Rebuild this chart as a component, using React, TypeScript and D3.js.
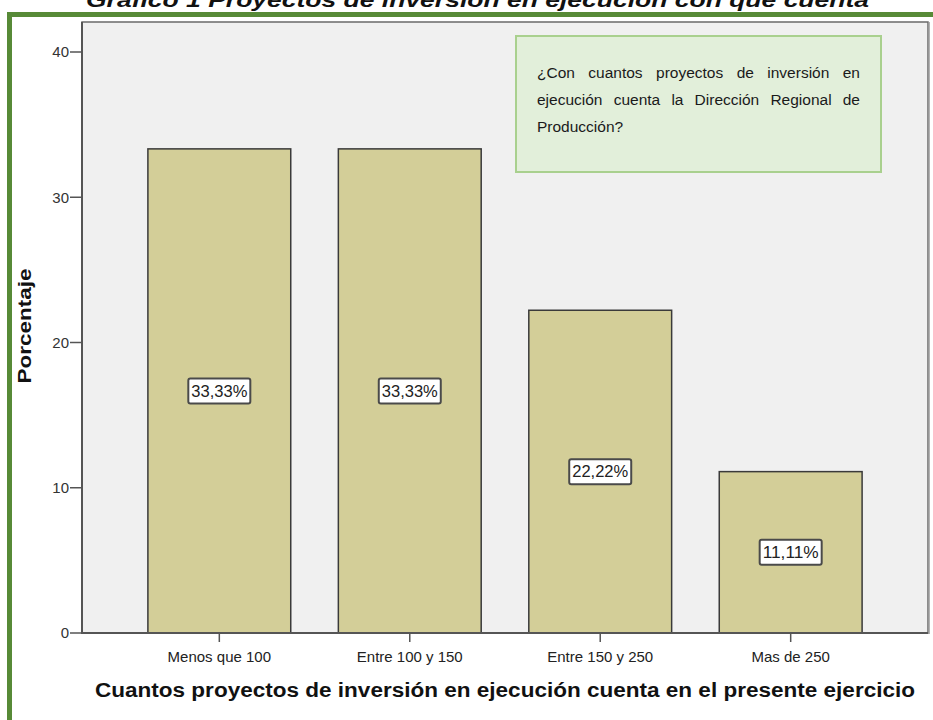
import React from "react";
import * as d3 from "d3";

const categories = ["Menos que 100", "Entre 100 y 150", "Entre 150 y 250", "Mas de 250"];
const percentages = [33.33, 33.33, 22.22, 11.11];
const valueLabels = ["33,33%", "33,33%", "22,22%", "11,11%"];
const yTicks = [0, 10, 20, 30, 40];
const titleText = "Gráfico 1 Proyectos de inversión en ejecución con que cuenta";
const xTitle = "Cuantos proyectos de inversión en ejecución cuenta en el presente ejercicio";
const yTitle = "Porcentaje";
const noteLines = [
  "¿Con cuantos proyectos de inversión en",
  "ejecución cuenta la Dirección Regional de",
  "Producción?",
];

const W = 933;
const H = 720;
const plotLeft = 82;
const plotRight = 928;
const plotTop = 22;
const plotBottom = 633;

const NOTE_SIZE = 15.5;
const NOTE_FONT = `${NOTE_SIZE}px 'Liberation Sans', Arial, sans-serif`;

function measure(text: string): number {
  try {
    const c = document.createElement("canvas");
    const ctx = c.getContext("2d");
    if (ctx) {
      ctx.font = NOTE_FONT;
      return ctx.measureText(text).width;
    }
  } catch (e) {}
  return text.length * 7.7;
}

export default function App() {
  const x = d3
    .scaleBand<string>()
    .domain(categories)
    .range([plotLeft, plotRight])
    .paddingInner(0.25)
    .paddingOuter(0.346);
  const y = d3.scaleLinear().domain([0, 40]).range([plotBottom, 52]);

  const noteLeft = 537;
  const noteRight = 860;
  const noteBaselines = [78, 105, 132];

  const noteWords = noteLines.map((line, li) => {
    const words = line.split(" ");
    const widths = words.map((w) => measure(w));
    const justify = li < noteLines.length - 1 && words.length > 1;
    const total = widths.reduce((a, b) => a + b, 0);
    const gap = justify ? (noteRight - noteLeft - total) / (words.length - 1) : measure(" ");
    let cx = noteLeft;
    return words.map((w, i) => {
      const pos = cx;
      cx += widths[i] + gap;
      return { w, pos, y: noteBaselines[li] };
    });
  });

  return (
    <svg
      width={W}
      height={H}
      style={{ position: "absolute", left: 0, top: 0, background: "#ffffff" }}
      fontFamily="'Liberation Sans', Arial, sans-serif"
    >
      {/* cut-off title */}
      <text
        x={86}
        y={7}
        fontSize={21}
        fontWeight="bold"
        fontStyle="italic"
        fill="#111"
        textLength={783}
        lengthAdjust="spacingAndGlyphs"
      >
        {titleText}
      </text>

      {/* green frame */}
      <line x1={7} x2={W} y1={14.5} y2={14.5} stroke="#578a37" strokeWidth={5} />
      <line x1={9.5} x2={9.5} y1={12} y2={H} stroke="#578a37" strokeWidth={5} />

      {/* plot background */}
      <rect
        x={plotLeft}
        y={plotTop}
        width={plotRight - plotLeft}
        height={plotBottom - plotTop}
        fill="#f0f0f0"
        stroke="#6a6a6a"
        strokeWidth={1.5}
      />
      <line x1={plotRight + 1} x2={plotRight + 1} y1={plotTop} y2={plotBottom + 1} stroke="#999" strokeWidth={1.5} />

      {/* note box */}
      <rect x={516} y={36} width={365} height={136} fill="#e2efda" stroke="#a9d08e" strokeWidth={2} />
      {noteWords.map((ws, li) =>
        ws.map((o, i) => (
          <text key={`n${li}-${i}`} x={o.pos} y={o.y} fontSize={NOTE_SIZE} fill="#1a1a1a">
            {o.w}
          </text>
        ))
      )}

      {/* bars */}
      {categories.map((c, i) => (
        <rect
          key={`b${i}`}
          x={x(c)}
          y={y(percentages[i])}
          width={x.bandwidth()}
          height={plotBottom - y(percentages[i])}
          fill="#d3ce98"
          stroke="#3a3a3a"
          strokeWidth={1.5}
        />
      ))}

      {/* value labels */}
      {categories.map((c, i) => {
        const cx = (x(c) as number) + x.bandwidth() / 2;
        const cy = y(percentages[i] / 2);
        return (
          <g key={`l${i}`}>
            <rect x={cx - 31} y={cy - 12.5} width={62} height={25} rx={2} fill="#ffffff" stroke="#4a4a4a" strokeWidth={2} />
            <text
              x={cx}
              y={cy}
              dy="0.36em"
              textAnchor="middle"
              fontSize={16}
              fill="#222"
              textLength={56}
              lengthAdjust="spacingAndGlyphs"
            >
              {valueLabels[i]}
            </text>
          </g>
        );
      })}

      {/* axes */}
      <line x1={plotLeft} x2={plotLeft} y1={plotTop} y2={plotBottom} stroke="#555" strokeWidth={2} />
      <line x1={plotLeft - 1} x2={plotRight} y1={plotBottom} y2={plotBottom} stroke="#555" strokeWidth={2} />
      {yTicks.map((t) => (
        <g key={`yt${t}`}>
          <line x1={plotLeft - 12} x2={plotLeft} y1={y(t)} y2={y(t)} stroke="#555" strokeWidth={1.5} />
          <text x={plotLeft - 13} y={y(t)} dy="0.36em" textAnchor="end" fontSize={15} fill="#333">
            {t}
          </text>
        </g>
      ))}
      {categories.map((c, i) => {
        const cx = (x(c) as number) + x.bandwidth() / 2;
        return (
          <g key={`xt${i}`}>
            <line x1={cx} x2={cx} y1={plotBottom} y2={plotBottom + 9} stroke="#555" strokeWidth={1.5} />
            <text x={cx} y={662} textAnchor="middle" fontSize={15} fill="#222">
              {c}
            </text>
          </g>
        );
      })}

      {/* axis titles */}
      <text
        x={505}
        y={697}
        textAnchor="middle"
        fontSize={20}
        fontWeight="bold"
        fill="#111"
        textLength={820}
        lengthAdjust="spacingAndGlyphs"
      >
        {xTitle}
      </text>
      <text
        transform="translate(31,326) rotate(-90)"
        x={0}
        y={0}
        textAnchor="middle"
        fontSize={18}
        fontWeight="bold"
        fill="#111"
        textLength={115}
        lengthAdjust="spacingAndGlyphs"
      >
        {yTitle}
      </text>
    </svg>
  );
}
